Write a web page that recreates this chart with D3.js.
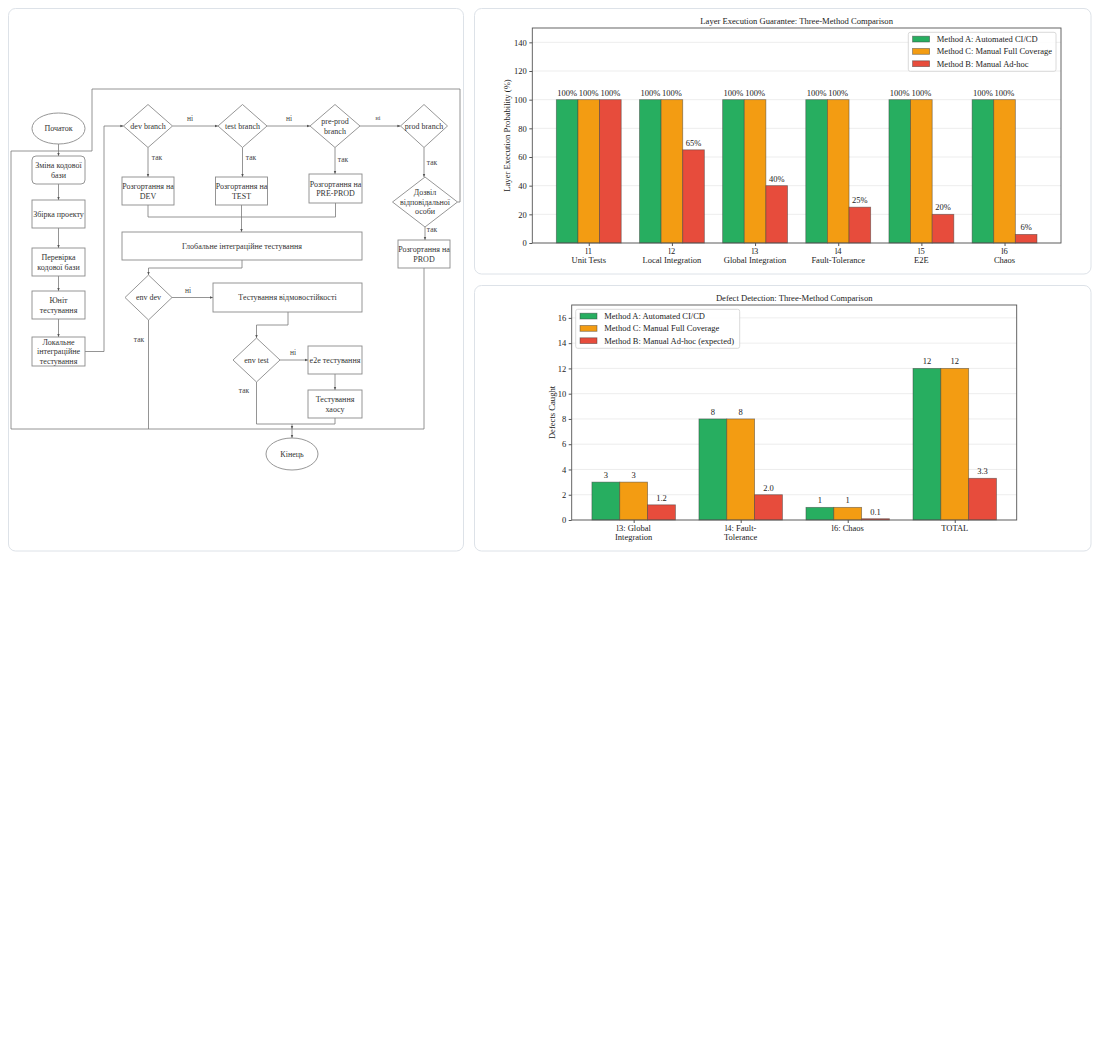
<!DOCTYPE html>
<html><head><meta charset="utf-8">
<script src="https://cdn.jsdelivr.net/npm/d3@7"></script>
<style>body{margin:0;background:#fff}svg{display:block}</style>
</head><body>
<svg id="c" width="1100" height="1055"></svg>
<script>
// ---------- DATA ----------
const layerCategories = ["l1\nUnit Tests", "l2\nLocal Integration", "l3\nGlobal Integration", "l4\nFault-Tolerance", "l5\nE2E", "l6\nChaos"];
const layerMethodA = [100, 100, 100, 100, 100, 100];
const layerMethodC = [100, 100, 100, 100, 100, 100];
const layerMethodB = [100, 65, 40, 25, 20, 6];
const layerTicks = [0, 20, 40, 60, 80, 100, 120, 140];
const layerSeriesNames = ["Method A: Automated CI/CD", "Method C: Manual Full Coverage", "Method B: Manual Ad-hoc"];

const defectCategories = ["l3: Global\nIntegration", "l4: Fault-\nTolerance", "l6: Chaos", "TOTAL"];
const defectMethodA = [3, 8, 1, 12];
const defectMethodC = [3, 8, 1, 12];
const defectMethodB = [1.2, 2.0, 0.1, 3.3];
const defectTicks = [0, 2, 4, 6, 8, 10, 12, 14, 16];
const defectSeriesNames = ["Method A: Automated CI/CD", "Method C: Manual Full Coverage", "Method B: Manual Ad-hoc (expected)"];

// flowchart content
const flowNodes = [
  {id:"start", shape:"ellipse", text:["Початок"]},
  {id:"change", shape:"round", text:["Зміна кодової","бази"]},
  {id:"build", shape:"rect", text:["Збірка проекту"]},
  {id:"check", shape:"rect", text:["Перевірка","кодової бази"]},
  {id:"unit", shape:"rect", text:["Юніт","тестування"]},
  {id:"local", shape:"rect", text:["Локальне","інтеграційне","тестування"]},
  {id:"devb", shape:"diamond", text:["dev branch"]},
  {id:"testb", shape:"diamond", text:["test branch"]},
  {id:"preb", shape:"diamond", text:["pre-prod","branch"]},
  {id:"prodb", shape:"diamond", text:["prod branch"]},
  {id:"depdev", shape:"rect", text:["Розгортання на","DEV"]},
  {id:"deptest", shape:"rect", text:["Розгортання на","TEST"]},
  {id:"deppre", shape:"rect", text:["Розгортання на","PRE-PROD"]},
  {id:"approve", shape:"diamond", text:["Дозвіл","відповідальної","особи"]},
  {id:"depprod", shape:"rect", text:["Розгортання на","PROD"]},
  {id:"global", shape:"rect", text:["Глобальне інтеграційне тестування"]},
  {id:"envdev", shape:"diamond", text:["env dev"]},
  {id:"fault", shape:"rect", text:["Тестування відмовостійкості"]},
  {id:"envtest", shape:"diamond", text:["env test"]},
  {id:"e2e", shape:"rect", text:["e2e тестування"]},
  {id:"chaos", shape:"rect", text:["Тестування","хаосу"]},
  {id:"end", shape:"ellipse", text:["Кінець"]}
];
const flowLabelsText = ["ні","ні","ні","так","так","так","так","так","ні","так","ні","так"];

// ---------- LAYOUT (positions / sizes) ----------
const flowLayout = {
  start:[58.5,128.5,53,31], change:[58.5,170,53,28], build:[58.5,214,53,28], check:[58.5,262,53,28],
  unit:[58.5,305,53,28], local:[58.5,351.5,53,29],
  devb:[148,126,49,43], testb:[242.5,126,49,43], preb:[335,126,50,43], prodb:[424,126,47,43],
  depdev:[148,191,52,28], deptest:[241.5,191,52,28], deppre:[335.5,188.5,53,29],
  approve:[425,202,65,50], depprod:[424,254,52,28], global:[242,246,240,28],
  envdev:[148.5,297.5,47,45], fault:[287.5,297.5,149,29], envtest:[256.5,360,47,44],
  e2e:[335,360,54,28], chaos:[335,404,54,28], end:[292,454,52,32]
};
const flowEdges = [
  {pts:[[58.5,144],[58.5,156]], arrow:true},
  {pts:[[58.5,184],[58.5,200]], arrow:true},
  {pts:[[58.5,228],[58.5,248]], arrow:true},
  {pts:[[58.5,276],[58.5,291]], arrow:true},
  {pts:[[58.5,319],[58.5,337]], arrow:true},
  {pts:[[85,351.5],[104,351.5],[104,126],[123.5,126]], arrow:true},
  {pts:[[172.5,126],[218,126]], arrow:true},
  {pts:[[267,126],[310,126]], arrow:true},
  {pts:[[360,126],[400.5,126]], arrow:true},
  {pts:[[148,147.5],[148,177]], arrow:true},
  {pts:[[242.5,147.5],[242.5,177]], arrow:true},
  {pts:[[335,147.5],[335,174]], arrow:true},
  {pts:[[424,147.5],[424,177]], arrow:true},
  {pts:[[148,205],[148,217],[335.5,217],[335.5,203]], arrow:false},
  {pts:[[241.5,205],[241.5,232]], arrow:true},
  {pts:[[457.5,202],[460,202],[460,89],[92,89],[92,151],[58.5,151]], arrow:false},
  {pts:[[425,227],[425,240]], arrow:true},
  {pts:[[424,268],[424,429],[11,429],[11,151],[58.5,151]], arrow:false},
  {pts:[[242,260],[242,268],[148.5,268],[148.5,275]], arrow:true},
  {pts:[[172,297.5],[213,297.5]], arrow:true},
  {pts:[[288,312],[288,325],[256.5,325],[256.5,338]], arrow:true},
  {pts:[[280,360],[308,360]], arrow:true},
  {pts:[[335,374],[335,390]], arrow:true},
  {pts:[[256.5,382],[256.5,424],[335,424],[335,418]], arrow:false},
  {pts:[[148.5,320],[148.5,429]], arrow:false},
  {pts:[[292,424],[292,429]], arrow:true},
  {pts:[[292,429],[292,438]], arrow:true}
];
const flowLabelPos = [[190,121],[289,121],[378,120],[157,160],[251,160],[343,162],[432,165],[432,232],[188,293],[139,342],[293,355],[244,393]];

const svg = d3.select("#c");
const SERIF = "'Liberation Serif','DejaVu Serif',serif";

// ---------- PANELS ----------
[[8.5,8.5,455,542.5],[474.5,8.5,616.5,265.5],[474.5,285.5,616.5,265.5]].forEach(p=>{
  svg.append("rect").attr("x",p[0]).attr("y",p[1]).attr("width",p[2]).attr("height",p[3])
    .attr("rx",7).attr("fill","#fff").attr("stroke","#dde2e8").attr("stroke-width",1);
});

// ---------- FLOWCHART ----------
const defs = svg.append("defs");
defs.append("marker").attr("id","arr").attr("viewBox","0 0 10 10").attr("refX",10).attr("refY",5)
  .attr("markerWidth",4).attr("markerHeight",4).attr("orient","auto-start-reverse")
  .append("path").attr("d","M0,1 L10,5 L0,9 z").attr("fill","#555");

const fg = svg.append("g");
const line = d3.line();
flowEdges.forEach(e=>{
  fg.append("path").attr("d",line(e.pts)).attr("fill","none").attr("stroke","#7a7a7a")
    .attr("stroke-width",0.8).attr("marker-end",e.arrow?"url(#arr)":null);
});
flowNodes.forEach(n=>{
  const [cx,cy,w,h] = flowLayout[n.id];
  let s;
  if(n.shape==="ellipse") s = fg.append("ellipse").attr("cx",cx).attr("cy",cy).attr("rx",w/2).attr("ry",h/2);
  else if(n.shape==="diamond") s = fg.append("path").attr("d",`M${cx},${cy-h/2}L${cx+w/2},${cy}L${cx},${cy+h/2}L${cx-w/2},${cy}Z`);
  else s = fg.append("rect").attr("x",cx-w/2).attr("y",cy-h/2).attr("width",w).attr("height",h).attr("rx",n.shape==="round"?4:0);
  s.attr("fill","#fff").attr("stroke","#8a8a8a").attr("stroke-width",0.9);
  const lh = n.text.length===3 ? 9.4 : 9.6;
  const t = fg.append("text").attr("text-anchor","middle").attr("font-family",SERIF).attr("font-size",8).attr("fill","#333");
  n.text.forEach((s2,i)=>{
    t.append("tspan").attr("x",cx).attr("y",cy + (i-(n.text.length-1)/2)*lh + 2.8).text(s2);
  });
});
flowLabelsText.forEach((s,i)=>{
  fg.append("text").attr("x",flowLabelPos[i][0]).attr("y",flowLabelPos[i][1]).attr("text-anchor","middle")
    .attr("font-family",SERIF).attr("font-size",i===2?6:7.5).attr("fill","#444").text(s);
});

// ---------- BAR CHARTS ----------
const colors = ["#27ae60","#f39c12","#e74c3c"];
function barChart(cfg){
  const g = svg.append("g");
  const {l,r,t,b} = cfg.plot;
  const n = cfg.cats.length, bw = 0.26;
  const m = 0.05*((n-1)+3*bw);
  const x = d3.scaleLinear().domain([-1.5*bw-m, n-1+1.5*bw+m]).range([l,r]);
  const y = d3.scaleLinear().domain([0,cfg.ymax]).range([b,t]);
  // grid
  g.selectAll(".gr").data(cfg.ticks).join("line").attr("x1",l).attr("x2",r)
    .attr("y1",d=>y(d)).attr("y2",d=>y(d)).attr("stroke","#e9e9e9").attr("stroke-width",0.8);
  // bars
  cfg.series.forEach((vals,si)=>{
    const off = (si-1)*bw;
    g.selectAll(null).data(vals).join("rect")
      .attr("x",(d,i)=>x(i+off-bw/2)).attr("width",x(bw)-x(0))
      .attr("y",d=>y(d)).attr("height",d=>y(0)-y(d))
      .attr("fill",colors[si]).attr("stroke","#3a3a3a").attr("stroke-opacity",0.55).attr("stroke-width",0.8);
    g.selectAll(null).data(vals).join("text")
      .attr("x",(d,i)=>x(i+off)).attr("y",d=>y(d)-4).attr("text-anchor","middle")
      .attr("font-family",SERIF).attr("font-size",8.5).attr("fill","#222")
      .text(d=>cfg.fmt[si](d));
  });
  // frame
  g.append("rect").attr("x",l).attr("y",t).attr("width",r-l).attr("height",b-t)
    .attr("fill","none").attr("stroke","#555").attr("stroke-width",0.9);
  // y axis
  const ya = g.append("g").attr("transform",`translate(${l},0)`)
    .call(d3.axisLeft(y).tickValues(cfg.ticks).tickSize(3).tickPadding(2.5));
  ya.select(".domain").remove();
  ya.selectAll("line").attr("stroke","#555");
  ya.selectAll("text").attr("font-family",SERIF).attr("font-size",8.5).attr("fill","#222");
  // x axis
  const xa = g.append("g").attr("transform",`translate(0,${b})`)
    .call(d3.axisBottom(x).tickValues(d3.range(n)).tickSize(3).tickFormat(""));
  xa.select(".domain").remove();
  xa.selectAll("line").attr("stroke","#555");
  cfg.cats.forEach((c,i)=>{
    const tx = g.append("text").attr("text-anchor","middle").attr("font-family",SERIF).attr("font-size",8.5).attr("fill","#222");
    c.split("\n").forEach((s,j)=>tx.append("tspan").attr("x",x(i)).attr("y",b+10.8+j*9.6).text(s));
  });
  // title
  g.append("text").attr("x",(l+r)/2).attr("y",t-4).attr("text-anchor","middle")
    .attr("font-family",SERIF).attr("font-size",8.6).attr("fill","#222").text(cfg.title);
  // ylabel
  g.append("text").attr("transform",`translate(${cfg.ylx},${(t+b)/2}) rotate(-90)`).attr("text-anchor","middle")
    .attr("font-family",SERIF).attr("font-size",8.6).attr("fill","#222").text(cfg.ylabel);
  // legend
  const L = cfg.legend;
  g.append("rect").attr("x",L.x).attr("y",L.y).attr("width",L.w).attr("height",39).attr("rx",2)
    .attr("fill","#fff").attr("fill-opacity",0.85).attr("stroke","#d0d0d0").attr("stroke-width",0.8);
  cfg.names.forEach((nm,i)=>{
    const cy = L.y+6.8+i*12.3;
    g.append("rect").attr("x",L.x+4.3).attr("y",cy-2.9).attr("width",17).attr("height",5.8)
      .attr("fill",colors[i]).attr("stroke","#3a3a3a").attr("stroke-opacity",0.55).attr("stroke-width",0.8);
    g.append("text").attr("x",L.x+28.5).attr("y",cy+3).attr("font-family",SERIF).attr("font-size",8.5)
      .attr("fill","#222").text(nm);
  });
}

barChart({
  cats: layerCategories, series:[layerMethodA, layerMethodC, layerMethodB],
  names: layerSeriesNames, ticks: layerTicks, ymax:150,
  plot:{l:532.3,r:1061,t:28,b:243},
  fmt:[d=>d+"%", d=>d+"%", d=>d+"%"],
  title:"Layer Execution Guarantee: Three-Method Comparison",
  ylabel:"Layer Execution Probability (%)", ylx:510,
  legend:{x:908.3,y:32.3,w:147.7}
});
barChart({
  cats: defectCategories, series:[defectMethodA, defectMethodC, defectMethodB],
  names: defectSeriesNames, ticks: defectTicks, ymax:17.02,
  plot:{l:571.7,r:1016.7,t:305,b:520},
  fmt:[d=>String(d), d=>String(d), d=>d.toFixed(1)],
  title:"Defect Detection: Three-Method Comparison",
  ylabel:"Defects Caught", ylx:555,
  legend:{x:575.7,y:309.3,w:164}
});
</script>
</body></html>
